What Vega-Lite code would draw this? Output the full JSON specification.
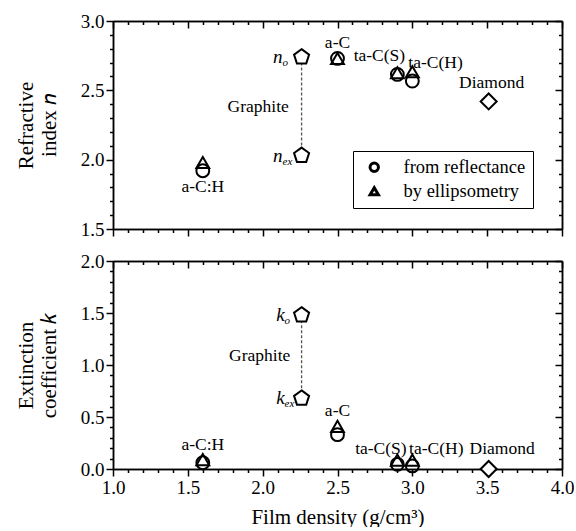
{
  "$schema": "https://vega.github.io/schema/vega-lite/v6.json",
  "padding": {"left": 15, "top": 12, "right": 0, "bottom": 0},
  "background": "white",
  "config": {
    "font": "Liberation Serif",
    "view": {"stroke": null},
    "text": {"font": "Liberation Serif"},
    "axis": {"grid": false, "labelFont": "Liberation Serif", "titleFont": "Liberation Serif", "labelFontSize": 19, "titleFontSize": 21, "titleFontWeight": "normal", "labelColor": "black", "titleColor": "black", "domainColor": "black", "tickColor": "black", "domainWidth": 1.5, "tickWidth": 1.5, "labelPadding": 2, "labelFlush": false, "labelOverlap": false},
    "legend": {"labelFont": "Liberation Serif"}
  },
  "datasets": {
    "pts": [
      {"material": "a-C:H", "density": 1.6, "method": "from reflectance", "n": 1.92, "k": 0.06},
      {"material": "a-C:H", "density": 1.6, "method": "by ellipsometry", "n": 1.98, "k": 0.09},
      {"material": "a-C", "density": 2.5, "method": "from reflectance", "n": 2.73, "k": 0.33},
      {"material": "a-C", "density": 2.5, "method": "by ellipsometry", "n": 2.73, "k": 0.41},
      {"material": "ta-C(S)", "density": 2.9, "method": "from reflectance", "n": 2.615, "k": 0.045},
      {"material": "ta-C(S)", "density": 2.9, "method": "by ellipsometry", "n": 2.627, "k": 0.085},
      {"material": "ta-C(H)", "density": 3.0, "method": "from reflectance", "n": 2.567, "k": 0.03},
      {"material": "ta-C(H)", "density": 3.0, "method": "by ellipsometry", "n": 2.634, "k": 0.085}
    ],
    "special": [
      {"material": "Graphite", "comp": "o", "density": 2.26, "n": 2.74, "k": 1.48},
      {"material": "Graphite", "comp": "ex", "density": 2.26, "n": 2.03, "k": 0.68},
      {"material": "Diamond", "comp": "", "density": 3.51, "n": 2.42, "k": 0.0}
    ],
    "labels_n": [
      {"label": "a-C:H", "x": 1.6, "y": 1.8},
      {"label": "Graphite", "x": 1.97, "y": 2.38},
      {"label": "a-C", "x": 2.5, "y": 2.84},
      {"label": "ta-C(S)", "x": 2.78, "y": 2.75},
      {"label": "ta-C(H)", "x": 3.155, "y": 2.7},
      {"label": "Diamond", "x": 3.53, "y": 2.555}
    ],
    "labels_k": [
      {"label": "a-C:H", "x": 1.6, "y": 0.23},
      {"label": "Graphite", "x": 1.98, "y": 1.09},
      {"label": "a-C", "x": 2.5, "y": 0.56},
      {"label": "ta-C(S)", "x": 2.79, "y": 0.19},
      {"label": "ta-C(H)", "x": 3.16, "y": 0.19},
      {"label": "Diamond", "x": 3.6, "y": 0.19}
    ]
  },
  "vconcat": [
    {
      "width": 449,
      "height": 208,
      "resolve": {"axis": {"x": "independent", "y": "independent"}},
      "layer": [
        {
          "data": {"name": "special"},
          "transform": [{"filter": "datum.material === 'Graphite'"}],
          "mark": {"type": "rule", "strokeDash": [3, 2], "color": "#555555", "strokeWidth": 1.3},
          "encoding": {
            "x": {"field": "density", "type": "quantitative", "scale": {"domain": [1, 4], "nice": false, "zero": false},
              "axis": {"orient": "bottom", "values": [1, 1.5, 2, 2.5, 3, 3.5, 4], "tickSize": 7, "labels": false, "title": null}},
            "y": {"aggregate": "min", "field": "n", "type": "quantitative", "scale": {"domain": [1.5, 3], "nice": false, "zero": false},
              "axis": {"orient": "left", "values": [1.5, 2, 2.5, 3], "format": ".1f", "tickSize": 7, "title": ["Refractive", "index  𝑛"], "titlePadding": 21, "labelFont": "Liberation Serif", "titleFont": "Liberation Serif"}},
            "y2": {"aggregate": "max", "field": "n"}
          }
        },
        {
          "data": {"name": "special"},
          "transform": [{"filter": "datum.material === 'Graphite'"}],
          "mark": {"type": "point", "shape": "M0,-1L0.951,-0.309L0.588,0.809L-0.588,0.809L-0.951,-0.309Z", "filled": true, "fill": "white", "stroke": "black", "strokeWidth": 2, "size": 250, "opacity": 1},
          "encoding": {
            "x": {"field": "density", "type": "quantitative", "scale": {"domain": [1, 4], "nice": false, "zero": false},
              "axis": {"orient": "bottom", "values": [1.1, 1.2, 1.3, 1.4, 1.6, 1.7, 1.8, 1.9, 2.1, 2.2, 2.3, 2.4, 2.6, 2.7, 2.8, 2.9, 3.1, 3.2, 3.3, 3.4, 3.6, 3.7, 3.8, 3.9], "tickSize": 3.5, "labels": false, "title": null}},
            "y": {"field": "n", "type": "quantitative", "scale": {"domain": [1.5, 3], "nice": false, "zero": false},
              "axis": {"orient": "left", "values": [1.6, 1.7, 1.8, 1.9, 2.1, 2.2, 2.3, 2.4, 2.6, 2.7, 2.8, 2.9], "tickSize": 3.5, "labels": false, "title": null}}
          }
        },
        {
          "data": {"name": "special"},
          "transform": [{"filter": "datum.material === 'Diamond'"}],
          "mark": {"type": "point", "shape": "diamond", "filled": true, "fill": "white", "stroke": "black", "strokeWidth": 2, "size": 256, "opacity": 1},
          "encoding": {
            "x": {"field": "density", "type": "quantitative", "scale": {"domain": [1, 4], "nice": false, "zero": false},
              "axis": {"orient": "top", "values": [1, 1.5, 2, 2.5, 3, 3.5, 4], "tickSize": -7, "labels": false, "title": null}},
            "y": {"field": "n", "type": "quantitative", "scale": {"domain": [1.5, 3], "nice": false, "zero": false},
              "axis": {"orient": "right", "values": [1.5, 2, 2.5, 3], "tickSize": -7, "labels": false, "title": null}}
          }
        },
        {
          "data": {"name": "pts"},
          "mark": {"type": "point", "filled": false, "stroke": "black", "strokeWidth": 2, "opacity": 1, "size": 165},
          "encoding": {
            "x": {"field": "density", "type": "quantitative", "scale": {"domain": [1, 4], "nice": false, "zero": false},
              "axis": {"orient": "top", "values": [1.1, 1.2, 1.3, 1.4, 1.6, 1.7, 1.8, 1.9, 2.1, 2.2, 2.3, 2.4, 2.6, 2.7, 2.8, 2.9, 3.1, 3.2, 3.3, 3.4, 3.6, 3.7, 3.8, 3.9], "tickSize": -3.5, "labels": false, "title": null}},
            "y": {"field": "n", "type": "quantitative", "scale": {"domain": [1.5, 3], "nice": false, "zero": false},
              "axis": {"orient": "right", "values": [1.6, 1.7, 1.8, 1.9, 2.1, 2.2, 2.3, 2.4, 2.6, 2.7, 2.8, 2.9], "tickSize": -3.5, "labels": false, "title": null}},
            "shape": {"field": "method", "type": "nominal",
              "scale": {"domain": ["from reflectance", "by ellipsometry"], "range": ["circle", "triangle-up"]},
              "legend": {"orient": "none", "legendX": 240, "legendY": 130, "title": null, "strokeColor": "black", "padding": 7, "rowPadding": 3, "labelFont": "Liberation Serif", "labelFontSize": 18.5, "labelColor": "black", "symbolSize": 70, "symbolStrokeWidth": 3, "symbolStrokeColor": "black", "symbolOffset": 5, "labelOffset": 20, "fillColor": "white"}}
          }
        },
        {
          "data": {"name": "labels_n"},
          "mark": {"type": "text", "font": "Liberation Serif", "fontSize": 17.5, "align": "center", "baseline": "middle", "color": "black"},
          "encoding": {
            "x": {"field": "x", "type": "quantitative", "scale": {"domain": [1, 4], "nice": false, "zero": false}, "axis": null},
            "y": {"field": "y", "type": "quantitative", "scale": {"domain": [1.5, 3], "nice": false, "zero": false}, "axis": null},
            "text": {"field": "label"}
          }
        },
        {
          "data": {"name": "special"},
          "transform": [{"filter": "datum.material === 'Graphite'"}],
          "mark": {"type": "text", "font": "Liberation Serif", "fontSize": 19, "fontStyle": "italic", "align": "right", "baseline": "middle", "dx": -19, "color": "black", "text": "n"},
          "encoding": {
            "x": {"field": "density", "type": "quantitative", "scale": {"domain": [1, 4], "nice": false, "zero": false}, "axis": null},
            "y": {"field": "n", "type": "quantitative", "scale": {"domain": [1.5, 3], "nice": false, "zero": false}, "axis": null}
          }
        },
        {
          "data": {"name": "special"},
          "transform": [{"filter": "datum.material === 'Graphite'"}],
          "mark": {"type": "text", "font": "Liberation Serif", "fontSize": 11, "fontStyle": "italic", "align": "left", "baseline": "middle", "dx": -19, "dy": 6, "color": "black"},
          "encoding": {
            "x": {"field": "density", "type": "quantitative", "scale": {"domain": [1, 4], "nice": false, "zero": false}, "axis": null},
            "y": {"field": "n", "type": "quantitative", "scale": {"domain": [1.5, 3], "nice": false, "zero": false}, "axis": null},
            "text": {"field": "comp"}
          }
        }
      ]
    },
    {
      "width": 449,
      "height": 208,
      "resolve": {"axis": {"x": "independent", "y": "independent"}},
      "layer": [
        {
          "data": {"name": "special"},
          "transform": [{"filter": "datum.material === 'Graphite'"}],
          "mark": {"type": "rule", "strokeDash": [3, 2], "color": "#555555", "strokeWidth": 1.3},
          "encoding": {
            "x": {"field": "density", "type": "quantitative", "scale": {"domain": [1, 4], "nice": false, "zero": false},
              "axis": {"orient": "bottom", "values": [1, 1.5, 2, 2.5, 3, 3.5, 4], "format": ".1f", "tickSize": 7, "title": "Film density (g/cm³)", "titlePadding": 9, "labelFont": "Liberation Serif", "titleFont": "Liberation Serif"}},
            "y": {"aggregate": "min", "field": "k", "type": "quantitative", "scale": {"domain": [0, 2], "nice": false, "zero": false},
              "axis": {"orient": "left", "values": [0, 0.5, 1, 1.5, 2], "format": ".1f", "tickSize": 7, "title": ["Extinction", "coefficient  𝑘"], "titlePadding": 21, "labelFont": "Liberation Serif", "titleFont": "Liberation Serif"}},
            "y2": {"aggregate": "max", "field": "k"}
          }
        },
        {
          "data": {"name": "special"},
          "transform": [{"filter": "datum.material === 'Graphite'"}],
          "mark": {"type": "point", "shape": "M0,-1L0.951,-0.309L0.588,0.809L-0.588,0.809L-0.951,-0.309Z", "filled": true, "fill": "white", "stroke": "black", "strokeWidth": 2, "size": 250, "opacity": 1},
          "encoding": {
            "x": {"field": "density", "type": "quantitative", "scale": {"domain": [1, 4], "nice": false, "zero": false},
              "axis": {"orient": "bottom", "values": [1.1, 1.2, 1.3, 1.4, 1.6, 1.7, 1.8, 1.9, 2.1, 2.2, 2.3, 2.4, 2.6, 2.7, 2.8, 2.9, 3.1, 3.2, 3.3, 3.4, 3.6, 3.7, 3.8, 3.9], "tickSize": 3.5, "labels": false, "title": null}},
            "y": {"field": "k", "type": "quantitative", "scale": {"domain": [0, 2], "nice": false, "zero": false},
              "axis": {"orient": "left", "values": [0.1, 0.2, 0.3, 0.4, 0.6, 0.7, 0.8, 0.9, 1.1, 1.2, 1.3, 1.4, 1.6, 1.7, 1.8, 1.9], "tickSize": 3.5, "labels": false, "title": null}}
          }
        },
        {
          "data": {"name": "special"},
          "transform": [{"filter": "datum.material === 'Diamond'"}],
          "mark": {"type": "point", "shape": "diamond", "filled": true, "fill": "white", "stroke": "black", "strokeWidth": 2, "size": 256, "opacity": 1},
          "encoding": {
            "x": {"field": "density", "type": "quantitative", "scale": {"domain": [1, 4], "nice": false, "zero": false},
              "axis": {"orient": "top", "values": [1, 1.5, 2, 2.5, 3, 3.5, 4], "tickSize": -7, "labels": false, "title": null}},
            "y": {"field": "k", "type": "quantitative", "scale": {"domain": [0, 2], "nice": false, "zero": false},
              "axis": {"orient": "right", "values": [0, 0.5, 1, 1.5, 2], "tickSize": -7, "labels": false, "title": null}}
          }
        },
        {
          "data": {"name": "pts"},
          "mark": {"type": "point", "filled": false, "stroke": "black", "strokeWidth": 2, "opacity": 1, "size": 165},
          "encoding": {
            "x": {"field": "density", "type": "quantitative", "scale": {"domain": [1, 4], "nice": false, "zero": false},
              "axis": {"orient": "top", "values": [1.1, 1.2, 1.3, 1.4, 1.6, 1.7, 1.8, 1.9, 2.1, 2.2, 2.3, 2.4, 2.6, 2.7, 2.8, 2.9, 3.1, 3.2, 3.3, 3.4, 3.6, 3.7, 3.8, 3.9], "tickSize": -3.5, "labels": false, "title": null}},
            "y": {"field": "k", "type": "quantitative", "scale": {"domain": [0, 2], "nice": false, "zero": false},
              "axis": {"orient": "right", "values": [0.1, 0.2, 0.3, 0.4, 0.6, 0.7, 0.8, 0.9, 1.1, 1.2, 1.3, 1.4, 1.6, 1.7, 1.8, 1.9], "tickSize": -3.5, "labels": false, "title": null}},
            "shape": {"field": "method", "type": "nominal",
              "scale": {"domain": ["from reflectance", "by ellipsometry"], "range": ["circle", "triangle-up"]}, "legend": null}
          }
        },
        {
          "data": {"name": "labels_k"},
          "mark": {"type": "text", "font": "Liberation Serif", "fontSize": 17.5, "align": "center", "baseline": "middle", "color": "black"},
          "encoding": {
            "x": {"field": "x", "type": "quantitative", "scale": {"domain": [1, 4], "nice": false, "zero": false}, "axis": null},
            "y": {"field": "y", "type": "quantitative", "scale": {"domain": [0, 2], "nice": false, "zero": false}, "axis": null},
            "text": {"field": "label"}
          }
        },
        {
          "data": {"name": "special"},
          "transform": [{"filter": "datum.material === 'Graphite'"}],
          "mark": {"type": "text", "font": "Liberation Serif", "fontSize": 19, "fontStyle": "italic", "align": "right", "baseline": "middle", "dx": -17, "color": "black", "text": "k"},
          "encoding": {
            "x": {"field": "density", "type": "quantitative", "scale": {"domain": [1, 4], "nice": false, "zero": false}, "axis": null},
            "y": {"field": "k", "type": "quantitative", "scale": {"domain": [0, 2], "nice": false, "zero": false}, "axis": null}
          }
        },
        {
          "data": {"name": "special"},
          "transform": [{"filter": "datum.material === 'Graphite'"}],
          "mark": {"type": "text", "font": "Liberation Serif", "fontSize": 11, "fontStyle": "italic", "align": "left", "baseline": "middle", "dx": -17, "dy": 6, "color": "black"},
          "encoding": {
            "x": {"field": "density", "type": "quantitative", "scale": {"domain": [1, 4], "nice": false, "zero": false}, "axis": null},
            "y": {"field": "k", "type": "quantitative", "scale": {"domain": [0, 2], "nice": false, "zero": false}, "axis": null},
            "text": {"field": "comp"}
          }
        }
      ]
    }
  ],
  "spacing": 32,
  "bounds": "flush",
  "resolve": {"scale": {"shape": "independent", "y": "independent"}}
}
